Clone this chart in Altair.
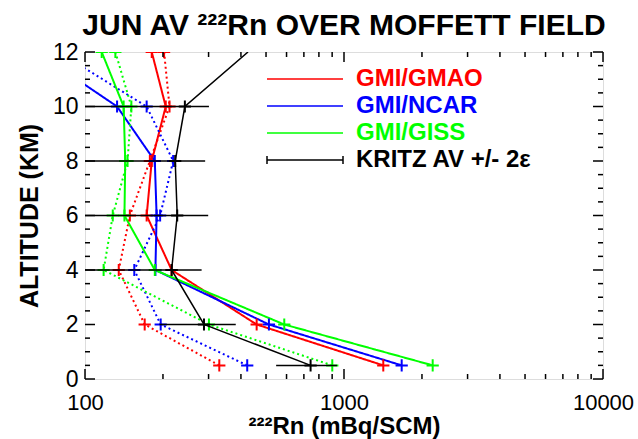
import altair as alt
import pandas as pd

# Altitude levels (km) of the June-average profiles
alt_km = [0.5, 2, 4, 6, 8, 10, 12]

# 222Rn (mBq/SCM) profiles from the three GMI runs: solid and dotted cases
gmao_solid = [1418, 460, 216, 173, 181, 205, 181]
gmao_dotted = [330, 170, 135, 149, 178, 212, 202]
ncar_solid = [1670, 513, 187, 189, 186, 133, 65]
ncar_dotted = [423, 196, 155, 195, 219, 173, 79]
giss_solid = [2200, 588, 186, 142, 143, 141, 116]
giss_dotted = [901, 301, 118, 128, 146, 151, 131]

# Kritz observed average with +/- 2 epsilon bounds
kritz_mean = [743, 288, 216, 227, 223, 243, 426]
kritz_lo = [547, 194, 90, 90, 90, 90, None]
kritz_hi = [940, 382, 282, 299, 291, 301, None]

models = ["GMI/GMAO", "GMI/NCAR", "GMI/GISS"]
kritz_name = "KRITZ AV +/- 2\u03b5"
legend_names = models + [kritz_name]
legend_colors = ["#ff0000", "#0000ff", "#00ff00", "#000000"]

# Axis tick values
x_major = [100, 1000, 10000]
x_minor = [200, 300, 400, 500, 600, 700, 800, 900,
           2000, 3000, 4000, 5000, 6000, 7000, 8000, 9000]
y_major = [0, 2, 4, 6, 8, 10, 12]
y_minor = [0.5, 1, 1.5, 2.5, 3, 3.5, 4.5, 5, 5.5, 6.5, 7, 7.5,
           8.5, 9, 9.5, 10.5, 11, 11.5]

W, H = 518, 327
FONT = "Liberation Sans"

series = {
    ("GMI/GMAO", "A"): gmao_solid,
    ("GMI/GMAO", "B"): gmao_dotted,
    ("GMI/NCAR", "A"): ncar_solid,
    ("GMI/NCAR", "B"): ncar_dotted,
    ("GMI/GISS", "A"): giss_solid,
    ("GMI/GISS", "B"): giss_dotted,
}
rows = []
for (m, run), vals in series.items():
    for a, v in zip(alt_km, vals):
        rows.append({"model": m, "run": run, "alt": a, "value": v})
model_df = pd.DataFrame(rows)

kritz_df = pd.DataFrame({"alt": alt_km, "value": kritz_mean,
                         "lo": kritz_lo, "hi": kritz_hi})

x_scale = alt.Scale(type="log", domain=[100, 10000])
y_scale = alt.Scale(domain=[0, 12])
color_scale = alt.Scale(domain=legend_names, range=legend_colors)
dash_scale = alt.Scale(domain=["A", "B"], range=[[1, 0], [2, 3]])

plus = "M-1,0H1M0,-1V1"

X = alt.X("value:Q", scale=x_scale,
          axis=alt.Axis(values=x_major, format="d", ticks=False, domain=False,
                        grid=False, labelPadding=13, labelFontSize=22,
                        labelFlush=False,
                        title="\u00b2\u00b2\u00b2Rn (mBq/SCM)", titleFontSize=24,
                        titleBaseline="alphabetic", titleY=54))
Y = alt.Y("alt:Q", scale=y_scale,
          axis=alt.Axis(values=y_major, ticks=False, domain=False, grid=False,
                        labelPadding=7, labelFontSize=23, labelBaseline="middle",
                        labelFlush=False,
                        title="ALTITUDE (KM)", titleFontSize=25, titlePadding=10))

model_base = alt.Chart(model_df)
model_lines = model_base.mark_line(strokeWidth=2, clip=True).encode(
    x=X, y=Y,
    color=alt.Color("model:N", scale=color_scale, legend=None),
    strokeDash=alt.StrokeDash("run:N", scale=dash_scale, legend=None),
    detail="run:N",
    order="alt:Q",
)
model_marks = model_base.mark_point(shape=plus, size=150, strokeWidth=2,
                                    filled=False, opacity=1, clip=True).encode(
    x="value:Q", y="alt:Q",
    color=alt.Color("model:N", scale=color_scale, legend=None),
)

kritz_base = alt.Chart(kritz_df)
kritz_line = kritz_base.mark_line(color="black", strokeWidth=1.5, clip=True).encode(
    x="value:Q", y="alt:Q", order="alt:Q")
kritz_err = kritz_base.transform_filter("isValid(datum.lo)").mark_rule(
    color="black", strokeWidth=1.5, clip=True).encode(
    x="lo:Q", x2="hi:Q", y="alt:Q")
kritz_marks = kritz_base.transform_filter("isValid(datum.lo)").mark_point(
    shape=plus, size=150, strokeWidth=2, filled=False, opacity=1,
    color="black", clip=True).encode(x="value:Q", y="alt:Q")

# Inward-pointing ticks on all four sides of the box
def x_ticks(values, length):
    d = alt.Chart(pd.DataFrame({"value": values}))
    bottom = d.mark_rule(color="black", strokeWidth=1.5).encode(
        x="value:Q", y=alt.value(H), y2=alt.value(H - length))
    top = d.mark_rule(color="black", strokeWidth=1.5).encode(
        x="value:Q", y=alt.value(0), y2=alt.value(length))
    return [bottom, top]

def y_ticks(values, length):
    d = alt.Chart(pd.DataFrame({"alt": values}))
    left = d.mark_rule(color="black", strokeWidth=1.5).encode(
        y="alt:Q", x=alt.value(0), x2=alt.value(length))
    right = d.mark_rule(color="black", strokeWidth=1.5).encode(
        y="alt:Q", x=alt.value(W), x2=alt.value(W - length))
    return [left, right]

ticks = x_ticks(x_major, 10) + x_ticks(x_minor, 5) + y_ticks(y_major, 10) + y_ticks(y_minor, 5)

main = alt.layer(model_lines, model_marks, kritz_line, kritz_err, kritz_marks, *ticks)

# Legend block in the upper right of the plot
leg_df = pd.DataFrame({"entry": legend_names})
leg_y = alt.Y("entry:N", scale=alt.Scale(type="point", domain=legend_names,
                                         range=[27, 108], padding=0), axis=None)
leg_color = alt.Color("entry:N", scale=color_scale, legend=None)
leg_base = alt.Chart(leg_df)
leg_lines = leg_base.mark_rule(strokeWidth=1.5).encode(
    y=leg_y, x=alt.value(182), x2=alt.value(258), color=leg_color)
leg_text = leg_base.mark_text(align="left", baseline="middle", font=FONT,
                              fontWeight="bold", fontSize=24).encode(
    y=leg_y, x=alt.value(271), text="entry:N", color=leg_color)
kritz_only = leg_base.transform_filter(alt.datum.entry == kritz_name)
cap_l = kritz_only.mark_point(shape="M0,-1V1", size=64, strokeWidth=1.5,
                              color="black", opacity=1).encode(y=leg_y, x=alt.value(182))
cap_r = kritz_only.mark_point(shape="M0,-1V1", size=64, strokeWidth=1.5,
                              color="black", opacity=1).encode(y=leg_y, x=alt.value(258))
legend = alt.layer(leg_lines, leg_text, cap_l, cap_r)

chart = alt.layer(main, legend).resolve_scale(y="independent").properties(
    width=W, height=H,
    title=alt.Title("JUN AV \u00b2\u00b2\u00b2Rn OVER MOFFETT FIELD", fontSize=30,
                    font=FONT, fontWeight="bold", anchor="middle", offset=0),
    autosize=alt.AutoSizeParams(type="none"),
    padding={"left": 85, "top": 52, "right": 35, "bottom": 60},
).configure_view(stroke="black", strokeWidth=2).configure_axis(
    labelFont=FONT, titleFont=FONT, labelFontWeight="bold", titleFontWeight="bold",
    labelColor="black", titleColor="black",
).configure(background="white")

chart.save("out.html", embed_options={"renderer": "svg", "actions": False})
